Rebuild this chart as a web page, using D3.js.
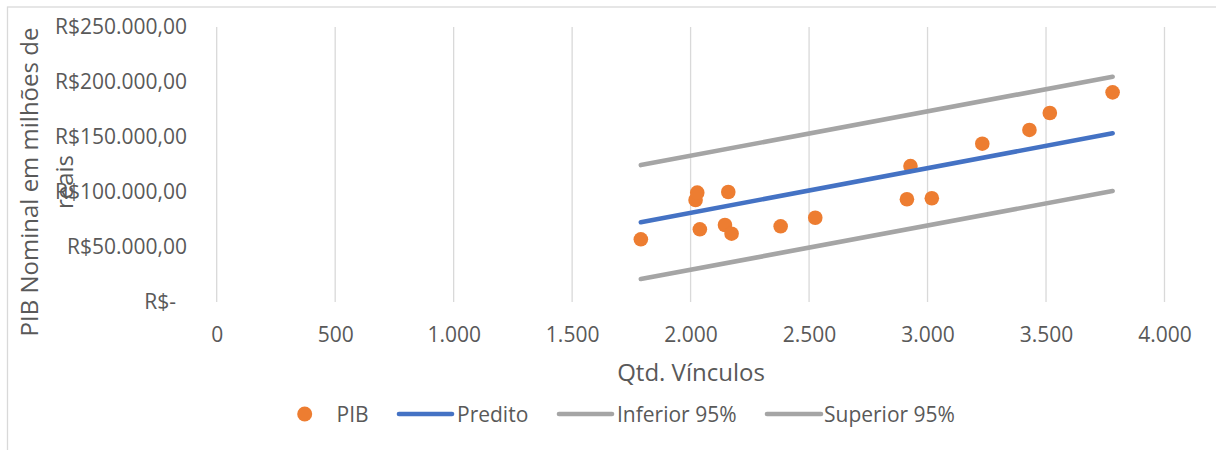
<!DOCTYPE html>
<html>
<head>
<meta charset="utf-8">
<script src="https://cdn.jsdelivr.net/npm/d3@7"></script>
<style>
  html, body { margin: 0; padding: 0; background: #fff; }
  svg { display: block; }
  text { font-family: "Open Sans", sans-serif; fill: #595959; }
</style>
</head>
<body>
<svg id="chart" width="1216" height="450"></svg>
<script>
// Observations: number of employment links vs nominal GDP (R$ millions)
const vinculos = [1790, 2021, 2028, 2039, 2145, 2159, 2173, 2380, 2526, 2913, 2928, 3018, 3231, 3430, 3516, 3781];
const pib      = [57000, 92700, 99400, 66100, 70000, 100000, 62100, 68800, 76600, 93400, 123600, 94300, 143900, 156400, 171800, 190600];

// Regression line and 95% band, at the ends of the observed range
const linhaX    = [1790, 3781];
const predito   = [72500, 153400];
const inferior  = [20900, 100900];
const superior  = [124500, 204800];

// Axis ticks
const xTicks = [0, 500, 1000, 1500, 2000, 2500, 3000, 3500, 4000];
const yTicks = [0, 50000, 100000, 150000, 200000, 250000];

const FONT = "'Open Sans', sans-serif";
const svg = d3.select("#chart");

// Chart frame
svg.append("rect")
  .attr("x", 7.5).attr("y", 7).attr("width", 1300).attr("height", 500)
  .attr("fill", "none").attr("stroke", "#d9d9d9").attr("stroke-width", 1.3);

const x = d3.scaleLinear().domain([0, 4000]).range([216.7, 1164.5]);
const y = d3.scaleLinear().domain([0, 250000]).range([302, 27]);

const fmtNum = d3.formatLocale({ decimal: ",", thousands: ".", grouping: [3], currency: ["R$", ""] });
const fmtX = fmtNum.format(",d");
const fmtY = v => v === 0 ? "R$-\u00a0\u00a0" : "R$" + fmtNum.format(",.2f")(v);

// Vertical gridlines
svg.append("g")
  .selectAll("line").data(xTicks).join("line")
  .attr("x1", d => x(d)).attr("x2", d => x(d))
  .attr("y1", y(250000)).attr("y2", y(0))
  .attr("stroke", "#d9d9d9").attr("stroke-width", 1.3);

// X axis labels
const xAxis = svg.append("g").attr("transform", `translate(0,${y(0)})`)
  .call(d3.axisBottom(x).tickValues(xTicks).tickFormat(fmtX).tickSize(0).tickPadding(25));
xAxis.select(".domain").remove();
xAxis.selectAll("text").style("font-size", "21px").attr("fill", "#595959")
  .style("font-family", FONT);

// Y axis labels
const yAxis = svg.append("g").attr("transform", "translate(187,0)")
  .call(d3.axisLeft(y).tickValues(yTicks).tickFormat(fmtY).tickSize(0).tickPadding(0));
yAxis.select(".domain").remove();
yAxis.selectAll("text").style("font-size", "21px").attr("fill", "#595959")
  .style("font-family", FONT);

// Axis titles
svg.append("text")
  .attr("x", 691).attr("y", 380.5)
  .attr("text-anchor", "middle")
  .style("font-size", "24px")
  .text("Qtd. Vínculos");

const yTitle = svg.append("text")
  .attr("transform", "translate(38,182) rotate(-90)")
  .attr("text-anchor", "middle")
  .style("font-size", "24px");
yTitle.append("tspan").attr("x", 0).attr("y", 0).text("PIB Nominal em milhões de");
yTitle.append("tspan").attr("x", 0).attr("y", 35).text("reais");

// Scatter points
svg.append("g")
  .selectAll("circle").data(vinculos.map((v, i) => [v, pib[i]])).join("circle")
  .attr("cx", d => x(d[0])).attr("cy", d => y(d[1]))
  .attr("r", 7.3).attr("fill", "#ED7D31");

// Lines
const line = d3.line().x(d => x(d[0])).y(d => y(d[1]));
const series = [
  { vals: superior, color: "#A5A5A5" },
  { vals: inferior, color: "#A5A5A5" },
  { vals: predito,  color: "#4472C4" }
];
svg.append("g").selectAll("path").data(series).join("path")
  .attr("d", s => line(linhaX.map((v, i) => [v, s.vals[i]])))
  .attr("fill", "none").attr("stroke", s => s.color)
  .attr("stroke-width", 4.6).attr("stroke-linecap", "round");

// Legend
const legY = 414;
const leg = svg.append("g");
leg.append("circle").attr("cx", 304.7).attr("cy", legY).attr("r", 7.5).attr("fill", "#ED7D31");
leg.append("text").attr("x", 336.5).attr("y", legY).attr("dy", "0.36em").style("font-size", "21px").text("PIB");

const legItems = [
  { label: "Predito",      color: "#4472C4", x0: 399, x1: 452, tx: 457 },
  { label: "Inferior 95%", color: "#A5A5A5", x0: 559, x1: 612, tx: 617 },
  { label: "Superior 95%", color: "#A5A5A5", x0: 767, x1: 821, tx: 824 }
];
legItems.forEach(it => {
  leg.append("line").attr("x1", it.x0).attr("x2", it.x1).attr("y1", legY).attr("y2", legY)
    .attr("stroke", it.color).attr("stroke-width", 4.6).attr("stroke-linecap", "round");
  leg.append("text").attr("x", it.tx).attr("y", legY).attr("dy", "0.36em")
    .style("font-size", "21px").text(it.label);
});
</script>
</body>
</html>
